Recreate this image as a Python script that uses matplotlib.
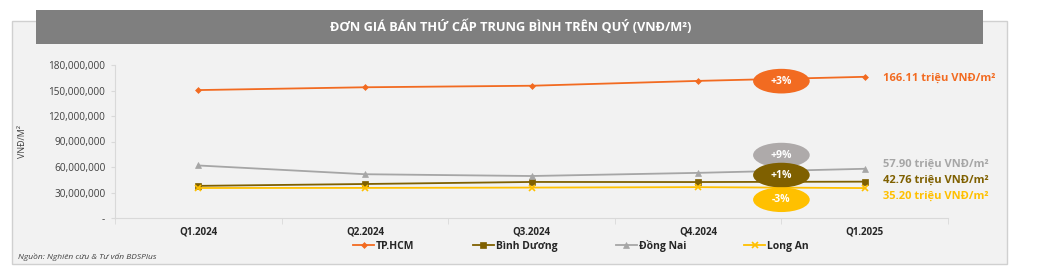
import matplotlib.pyplot as plt
from matplotlib.patches import Rectangle, Ellipse
from matplotlib.ticker import FuncFormatter

plt.rcParams['font.family'] = ['Open Sans', 'DejaVu Sans']

quarters = ['Q1.2024', 'Q2.2024', 'Q3.2024', 'Q4.2024', 'Q1.2025']
hcm = [150.5e6, 153.8e6, 155.6e6, 161.3e6, 166.11e6]
binh_duong = [37.8e6, 40.0e6, 42.4e6, 42.3e6, 42.76e6]
dong_nai = [61.8e6, 51.5e6, 49.4e6, 53.1e6, 57.90e6]
long_an = [35.3e6, 35.4e6, 35.8e6, 36.3e6, 35.20e6]

series_names = ['TP.HCM', 'Bình Dương', 'Đồng Nai', 'Long An']
end_labels = ['166.11 triệu VNĐ/m²', '42.76 triệu VNĐ/m²', '57.90 triệu VNĐ/m²', '35.20 triệu VNĐ/m²']
changes = ['+3%', '+1%', '+9%', '-3%']

colors = ['#f26b21', '#7f6000', '#a6a6a6', '#ffc000']
bubble_colors = ['#f26b21', '#7f6000', '#aeaaaa', '#ffc000']
markers = ['D', 's', '^', 'x']
msizes = [3, 5, 5, 4]

fig = plt.figure(figsize=(10.52, 2.71), dpi=100)
W, H = 1052, 271

def fx(px):
    return px / W

def fy(py):
    return 1 - py / H

# background panel and title bar
fig.patches.append(Rectangle((fx(12), fy(264)), fx(995), 243 / H, transform=fig.transFigure,
                             facecolor='#f2f2f2', edgecolor='#d0d0d0', lw=1, zorder=-10))
fig.patches.append(Rectangle((fx(36), fy(44)), fx(947), 34 / H, transform=fig.transFigure,
                             facecolor='#7f7f7f', edgecolor='none', zorder=-9))
fig.text(fx(511), fy(27), 'ĐƠN GIÁ BÁN THỨ CẤP TRUNG BÌNH TRÊN QUÝ (VNĐ/M²)', color='white',
         fontsize=9.2, fontweight='bold', ha='center', va='center')

ax = fig.add_axes([fx(115), fy(218), fx(948) - fx(115), (218 - 65) / H])
ax.set_facecolor('none')

x = list(range(len(quarters)))
all_series = [hcm, binh_duong, dong_nai, long_an]
for vals, name, c, m, ms in zip(all_series, series_names, colors, markers, msizes):
    ax.plot(x, vals, color=c, lw=1.3, marker=m, markersize=ms, label=name,
            markeredgewidth=1.2 if m == 'x' else 0.5)

ax.set_xlim(-0.5, 4.5)
ax.set_ylim(0, 180e6)
ax.set_yticks([0, 30e6, 60e6, 90e6, 120e6, 150e6, 180e6])
ax.yaxis.set_major_formatter(FuncFormatter(lambda v, p: '-' if v == 0 else f'{int(v):,}'))
ax.set_xticks(x)
ax.set_xticklabels(quarters, fontweight='bold', fontsize=7, color='#262626')
ax.set_xticks([-0.5, 0.5, 1.5, 2.5, 3.5, 4.5], minor=True)
ax.tick_params(axis='x', which='major', length=0, pad=6)
ax.tick_params(axis='x', which='minor', length=4, color='#d9d9d9', direction='out')
ax.tick_params(axis='y', labelsize=7.2, labelcolor='#404040', length=3, color='#d9d9d9', pad=4)
for s in ['top', 'right']:
    ax.spines[s].set_visible(False)
for s in ['left', 'bottom']:
    ax.spines[s].set_color('#d9d9d9')

ax.set_ylabel('VNĐ/M²', fontsize=6.5, color='#404040')
ax.yaxis.set_label_coords((27 - 115) / (948 - 115), 0.5)

# change bubbles between Q4.2024 and Q1.2025
bubble_y = [161e6, 50.5e6, 74e6, 21.5e6]
order = [0, 2, 1, 3]
for z, i in enumerate(order):
    e = Ellipse((3.5, bubble_y[i]), 0.34, 29e6, facecolor=bubble_colors[i], edgecolor='none',
                zorder=5 + z, clip_on=False)
    ax.add_patch(e)
    ax.text(3.5, bubble_y[i], changes[i], color='white', fontsize=7.5, fontweight='bold',
            ha='center', va='center', zorder=5 + z)

# end labels
label_y = [164e6, 44e6, 63.5e6, 25.5e6]
for i in range(4):
    ax.text(4.11, label_y[i], end_labels[i], color=colors[i],
            fontsize=8, fontweight='bold', ha='left', va='center', clip_on=False)

fig.legend(loc='center', bbox_to_anchor=(fx(581), fy(246)), ncol=4, frameon=False,
           prop={'weight': 'bold', 'size': 7.5}, handlelength=2, handletextpad=0.2,
           columnspacing=5.6, labelcolor='#262626')

fig.text(fx(18), fy(257), 'Nguồn: Nghiên cứu & Tư vấn BDSPlus', fontsize=6, style='italic',
         color='#404040', ha='left', va='center')

fig.savefig('out.png', dpi=100)
